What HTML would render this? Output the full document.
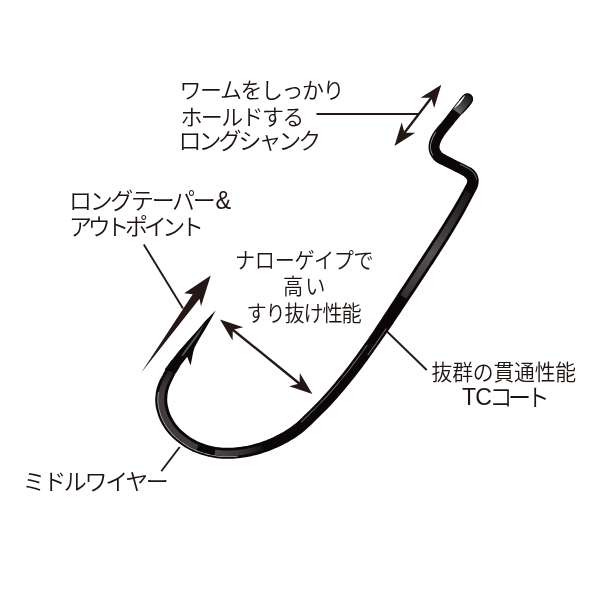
<!DOCTYPE html>
<html lang="ja"><head><meta charset="utf-8"><title>hook</title>
<style>
html,body{margin:0;padding:0;background:#fff;}
body{width:600px;height:600px;overflow:hidden;position:relative;}
svg{position:absolute;left:0;top:0;}
text{font-family:"Liberation Sans","Noto Sans CJK JP",sans-serif;font-weight:350;fill:#1d1412;}
</style></head><body>
<svg width="600" height="600" viewBox="0 0 600 600">
<defs>
<linearGradient id="eyeg" gradientUnits="userSpaceOnUse" x1="-4" y1="0" x2="16.5" y2="0"><stop offset="0" stop-color="#1c1819"/><stop offset="0.45" stop-color="#3a3636"/><stop offset="1" stop-color="#6b6868"/></linearGradient>
<linearGradient id="shg" gradientUnits="userSpaceOnUse" x1="468" y1="193" x2="404" y2="295"><stop offset="0" stop-color="#1d191a"/><stop offset="0.3" stop-color="#383434"/><stop offset="0.6" stop-color="#565252"/><stop offset="0.85" stop-color="#423e3e"/><stop offset="1" stop-color="#353131"/></linearGradient>
<linearGradient id="bga" gradientUnits="userSpaceOnUse" x1="172" y1="368" x2="168" y2="395"><stop offset="0" stop-color="#1a1617"/><stop offset="0.5" stop-color="#343030"/><stop offset="1" stop-color="#403c3c"/></linearGradient>
<linearGradient id="bgb" gradientUnits="userSpaceOnUse" x1="214" y1="0" x2="262" y2="0"><stop offset="0" stop-color="#4c4848"/><stop offset="0.6" stop-color="#353131"/><stop offset="1" stop-color="#151112"/></linearGradient>
</defs>
<rect width="600" height="600" fill="#fff"/>
<!-- hook wire -->
<path d="M 462.8,95.5 L 461.7,96.8 L 460.6,98.2 L 459.5,99.6 L 458.5,100.9 L 457.5,102.1 L 456.6,103.2 L 455.8,104.2 L 455.2,105.0 L 454.5,105.9 L 453.8,106.8 L 452.9,107.9 L 451.9,109.2 L 450.7,110.8 L 449.4,112.5 L 448.0,114.3 L 446.5,116.2 L 445.2,118.0 L 443.9,119.6 L 442.7,121.0 L 441.5,122.4 L 440.4,123.7 L 439.2,125.1 L 438.2,126.3 L 437.1,127.6 L 436.2,128.7 L 435.4,129.8 L 434.6,130.8 L 433.9,131.8 L 433.2,132.8 L 432.6,133.8 L 432.0,134.9 L 431.4,135.9 L 430.9,137.0 L 430.5,138.0 L 430.1,139.1 L 429.7,140.1 L 429.4,141.2 L 429.1,142.2 L 428.9,143.3 L 428.7,144.4 L 428.6,145.4 L 428.6,146.5 L 428.6,147.6 L 428.6,148.6 L 428.7,149.7 L 428.9,150.7 L 429.2,151.7 L 429.5,152.7 L 429.8,153.7 L 430.3,154.7 L 430.8,155.6 L 431.3,156.6 L 431.9,157.4 L 432.4,158.1 L 432.8,158.6 L 433.2,159.2 L 433.9,160.1 L 435.0,161.1 L 436.2,162.0 L 437.7,162.9 L 439.6,164.0 L 441.9,165.1 L 444.3,166.3 L 446.9,167.5 L 449.4,168.7 L 451.6,169.8 L 453.7,170.9 L 455.9,172.0 L 458.0,173.1 L 459.9,174.1 L 461.6,175.0 L 463.0,175.8 L 463.9,176.3 L 464.4,176.7 L 464.6,176.9 L 464.5,176.9 L 464.7,177.1 L 465.0,177.4 L 465.3,177.7 L 465.6,177.9 L 465.8,178.1 L 466.0,178.3 L 466.2,178.5 L 466.3,178.7 L 466.5,178.8 L 466.6,179.0 L 466.7,179.2 L 466.8,179.3 L 466.9,179.5 L 466.9,179.6 L 467.0,179.8 L 467.0,179.9 L 467.1,180.1 L 467.1,180.2 L 467.1,180.4 L 467.2,180.6 L 467.2,180.7 L 467.2,180.9 L 467.2,181.1 L 467.1,181.4 L 467.1,181.6 L 467.1,181.9 L 467.0,182.2 L 467.0,182.5 L 466.9,182.8 L 466.8,183.0 L 466.7,183.4 L 466.5,183.8 L 466.3,184.2 L 466.3,184.2 L 466.3,184.2 L 466.0,184.7 L 465.5,185.6 L 464.6,187.2 L 463.3,189.7 L 461.6,192.7 L 459.7,196.2 L 457.6,199.9 L 455.5,203.6 L 453.5,207.0 L 451.6,210.3 L 449.6,213.5 L 447.6,216.8 L 445.5,220.1 L 443.5,223.4 L 441.4,226.7 L 439.4,229.8 L 437.5,232.9 L 435.5,235.9 L 433.5,239.1 L 431.2,242.6 L 428.7,246.5 L 425.7,251.0 L 422.4,256.1 L 418.9,261.5 L 415.4,266.8 L 412.1,271.9 L 409.1,276.5 L 406.6,280.4 L 404.3,283.9 L 402.2,287.1 L 400.1,290.2 L 398.1,293.3 L 396.0,296.5 L 393.8,299.9 L 391.6,303.2 L 389.5,306.5 L 387.3,309.9 L 385.1,313.2 L 382.9,316.6 L 380.7,319.9 L 378.5,323.2 L 376.3,326.6 L 374.1,329.9 L 371.9,333.2 L 369.6,336.6 L 367.3,339.9 L 364.9,343.2 L 362.6,346.5 L 360.2,349.8 L 357.8,353.2 L 355.4,356.5 L 353.0,359.8 L 350.5,363.1 L 348.0,366.4 L 345.4,369.7 L 342.9,373.0 L 340.2,376.3 L 337.5,379.6 L 334.8,382.9 L 332.0,386.2 L 329.2,389.5 L 326.3,392.8 L 323.3,396.1 L 320.2,399.4 L 316.8,403.0 L 313.3,406.5 L 309.9,409.9 L 306.7,413.1 L 303.8,415.8 L 301.4,418.2 L 299.2,420.2 L 297.3,421.9 L 295.6,423.4 L 293.7,424.8 L 291.7,426.4 L 289.5,427.9 L 287.1,429.4 L 284.8,430.9 L 282.3,432.4 L 279.9,433.7 L 277.4,435.0 L 275.1,436.2 L 272.7,437.4 L 270.3,438.5 L 267.9,439.5 L 265.5,440.4 L 263.1,441.3 L 260.8,442.2 L 258.4,442.9 L 256.0,443.6 L 253.6,444.3 L 251.2,444.9 L 248.8,445.4 L 246.5,445.9 L 244.1,446.3 L 241.7,446.7 L 239.3,447.0 L 237.0,447.3 L 234.6,447.5 L 232.2,447.7 L 229.8,447.8 L 227.5,447.8 L 225.1,447.8 L 222.8,447.7 L 220.5,447.5 L 218.2,447.3 L 215.9,446.9 L 213.6,446.5 L 211.3,446.0 L 208.9,445.4 L 206.6,444.7 L 204.3,443.9 L 201.9,443.1 L 199.6,442.2 L 197.3,441.2 L 195.1,440.1 L 192.9,438.8 L 190.6,437.4 L 188.2,435.7 L 185.9,434.0 L 183.6,432.1 L 181.5,430.2 L 179.6,428.4 L 178.0,426.6 L 176.5,424.8 L 175.2,422.9 L 173.9,421.0 L 172.8,419.1 L 171.8,417.2 L 170.9,415.4 L 170.1,413.7 L 169.5,411.9 L 168.9,410.1 L 168.5,408.4 L 168.0,406.6 L 167.7,405.1 L 167.5,403.7 L 167.3,402.5 L 167.3,401.2 L 167.2,399.9 L 167.3,398.3 L 167.4,396.6 L 167.5,395.0 L 167.7,393.3 L 168.0,391.6 L 168.4,389.9 L 168.9,388.0 L 169.8,385.8 L 170.8,383.3 L 172.1,380.5 L 173.5,377.8 L 174.7,375.2 L 175.8,373.1 L 176.7,371.4 L 177.4,370.2 L 178.1,369.2 L 178.8,368.2 L 179.5,367.1 L 180.3,365.9 L 171.7,360.1 L 170.9,361.2 L 170.2,362.2 L 169.5,363.3 L 168.6,364.6 L 167.6,366.1 L 166.6,367.9 L 165.3,370.1 L 163.8,372.6 L 162.3,375.4 L 160.7,378.3 L 159.2,381.2 L 158.1,384.0 L 157.2,386.6 L 156.5,389.1 L 156.0,391.4 L 155.7,393.6 L 155.5,395.7 L 155.3,397.7 L 155.2,399.7 L 155.2,401.6 L 155.4,403.5 L 155.6,405.5 L 155.9,407.4 L 156.4,409.4 L 156.9,411.4 L 157.5,413.5 L 158.2,415.8 L 159.0,418.1 L 160.1,420.5 L 161.2,422.8 L 162.5,425.1 L 164.0,427.4 L 165.5,429.7 L 167.3,432.0 L 169.2,434.3 L 171.4,436.6 L 173.7,438.8 L 176.2,440.9 L 178.9,443.0 L 181.6,445.0 L 184.4,446.9 L 187.1,448.6 L 189.9,450.1 L 192.6,451.4 L 195.4,452.5 L 198.1,453.6 L 200.7,454.5 L 203.4,455.3 L 206.1,456.1 L 208.7,456.7 L 211.4,457.3 L 214.1,457.8 L 216.8,458.2 L 219.5,458.5 L 222.2,458.7 L 224.9,458.8 L 227.5,458.8 L 230.2,458.8 L 232.8,458.7 L 235.4,458.5 L 238.0,458.3 L 240.7,458.0 L 243.3,457.6 L 245.9,457.2 L 248.5,456.7 L 251.2,456.2 L 253.8,455.6 L 256.4,454.9 L 259.0,454.2 L 261.6,453.4 L 264.2,452.6 L 266.9,451.7 L 269.5,450.7 L 272.1,449.7 L 274.7,448.6 L 277.3,447.5 L 279.9,446.3 L 282.6,445.0 L 285.2,443.6 L 287.9,442.2 L 290.5,440.6 L 293.2,439.0 L 295.8,437.4 L 298.3,435.6 L 300.6,433.9 L 302.8,432.2 L 304.9,430.5 L 307.0,428.6 L 309.2,426.6 L 311.8,424.2 L 314.7,421.3 L 318.0,418.1 L 321.5,414.6 L 325.1,411.0 L 328.6,407.4 L 331.9,403.9 L 335.0,400.6 L 338.0,397.2 L 340.9,393.8 L 343.8,390.4 L 346.6,387.1 L 349.4,383.7 L 352.1,380.3 L 354.8,377.0 L 357.4,373.6 L 360.0,370.2 L 362.5,366.9 L 365.0,363.5 L 367.5,360.2 L 369.9,356.8 L 372.3,353.5 L 374.7,350.1 L 377.1,346.8 L 379.4,343.4 L 381.8,340.1 L 384.1,336.8 L 386.4,333.4 L 388.7,330.1 L 391.0,326.8 L 393.3,323.4 L 395.5,320.1 L 397.7,316.8 L 400.0,313.5 L 402.2,310.1 L 404.4,306.8 L 406.6,303.5 L 408.7,300.3 L 410.8,297.2 L 412.8,294.2 L 415.0,290.9 L 417.3,287.5 L 419.9,283.5 L 422.9,279.0 L 426.2,273.9 L 429.7,268.5 L 433.3,263.2 L 436.6,258.1 L 439.5,253.5 L 442.0,249.6 L 444.3,246.1 L 446.3,242.8 L 448.3,239.7 L 450.2,236.6 L 452.2,233.3 L 454.2,230.0 L 456.2,226.6 L 458.2,223.2 L 460.2,219.8 L 462.1,216.4 L 464.1,213.0 L 466.0,209.4 L 468.1,205.6 L 470.1,201.8 L 471.9,198.3 L 473.5,195.2 L 474.8,192.8 L 475.6,191.2 L 476.1,190.2 L 476.4,189.7 L 476.7,189.2 L 476.9,188.7 L 477.1,188.2 L 477.4,187.5 L 477.7,186.7 L 477.9,186.0 L 478.1,185.3 L 478.3,184.6 L 478.4,183.9 L 478.5,183.2 L 478.6,182.4 L 478.6,181.7 L 478.7,181.0 L 478.7,180.2 L 478.6,179.5 L 478.5,178.8 L 478.4,178.0 L 478.2,177.3 L 478.0,176.6 L 477.8,175.9 L 477.5,175.2 L 477.2,174.5 L 476.9,173.8 L 476.5,173.2 L 476.1,172.6 L 475.7,172.0 L 475.2,171.4 L 474.8,170.8 L 474.3,170.3 L 473.7,169.7 L 473.2,169.2 L 472.6,168.8 L 472.1,168.4 L 471.7,168.1 L 471.3,167.8 L 470.6,167.5 L 469.9,167.2 L 469.1,166.8 L 468.0,166.2 L 466.6,165.5 L 464.8,164.6 L 462.8,163.6 L 460.7,162.6 L 458.5,161.5 L 456.4,160.4 L 454.1,159.2 L 451.7,157.9 L 449.2,156.7 L 446.8,155.4 L 444.8,154.3 L 443.3,153.5 L 442.4,152.9 L 442.0,152.6 L 442.0,152.5 L 442.0,152.5 L 441.7,152.1 L 441.2,151.5 L 440.8,151.0 L 440.6,150.6 L 440.4,150.3 L 440.2,149.9 L 440.0,149.6 L 439.9,149.2 L 439.8,148.8 L 439.7,148.5 L 439.6,148.1 L 439.6,147.7 L 439.5,147.3 L 439.5,146.8 L 439.6,146.3 L 439.6,145.8 L 439.7,145.3 L 439.8,144.8 L 440.0,144.2 L 440.2,143.6 L 440.4,142.9 L 440.7,142.3 L 441.0,141.6 L 441.3,140.8 L 441.7,140.1 L 442.1,139.3 L 442.6,138.5 L 443.0,137.7 L 443.5,136.9 L 444.1,136.0 L 444.7,135.1 L 445.5,134.0 L 446.3,132.9 L 447.2,131.7 L 448.3,130.4 L 449.4,129.0 L 450.7,127.6 L 451.9,126.0 L 453.2,124.4 L 454.7,122.6 L 456.1,120.8 L 457.6,119.0 L 458.9,117.4 L 460.1,116.0 L 461.0,114.9 L 461.9,114.1 L 462.7,113.4 L 463.5,112.7 L 464.4,111.8 L 465.4,110.8 L 466.5,109.5 L 467.6,108.2 L 468.7,106.9 L 469.8,105.5 L 470.8,104.1 L 471.9,102.8 Z" fill="#0b0708"/>
<path d="M 465.5,190.9 L 463.9,193.9 L 462.0,197.4 L 459.9,201.1 L 457.8,204.8 L 455.9,208.3 L 453.9,211.6 L 451.9,214.9 L 449.9,218.2 L 447.9,221.5 L 445.8,224.8 L 443.8,228.1 L 441.8,231.3 L 439.8,234.4 L 437.9,237.4 L 435.8,240.6 L 433.6,244.1 L 431.1,248.0 L 428.1,252.6 L 424.8,257.7 L 421.3,263.0 L 417.8,268.4 L 414.5,273.5 L 411.5,278.0 L 408.9,281.9 L 406.6,285.4 L 404.5,288.6 L 402.5,291.7 L 400.5,294.8 L 406.4,298.8 L 408.4,295.7 L 410.5,292.6 L 412.6,289.4 L 414.9,285.9 L 417.5,282.0 L 420.5,277.4 L 423.8,272.4 L 427.4,267.0 L 430.9,261.6 L 434.2,256.5 L 437.1,252.0 L 439.7,248.0 L 441.9,244.5 L 444.0,241.3 L 445.9,238.2 L 447.8,235.1 L 449.8,231.9 L 451.9,228.5 L 453.9,225.2 L 455.9,221.8 L 457.9,218.4 L 459.8,215.1 L 461.7,211.7 L 463.7,208.1 L 465.8,204.3 L 467.8,200.6 L 469.7,197.0 L 471.3,193.9 Z" fill="url(#shg)"/>
<path d="M 198.6,444.8 L 196.1,443.7 L 193.8,442.6 L 191.4,441.3 L 189.0,439.8 L 186.6,438.1 L 184.1,436.2 L 181.7,434.3 L 179.5,432.4 L 177.6,430.5 L 175.8,428.6 L 174.2,426.6 L 172.8,424.6 L 171.4,422.6 L 170.2,420.6 L 169.1,418.6 L 168.2,416.7 L 167.4,414.8 L 166.7,412.9 L 166.1,411.0 L 165.6,409.1 L 165.1,407.3 L 164.8,405.7 L 164.5,404.2 L 164.3,402.7 L 164.3,401.3 L 164.2,399.8 L 164.3,398.2 L 164.4,396.4 L 164.6,394.6 L 164.8,392.8 L 165.1,391.0 L 165.6,389.0 L 166.2,387.0 L 167.1,384.7 L 168.3,382.0 L 169.7,379.2 L 171.0,376.5 L 172.4,373.9 L 173.5,371.8 L 168.9,369.2 L 167.7,371.4 L 166.2,373.9 L 164.7,376.7 L 163.2,379.6 L 161.9,382.4 L 160.8,385.0 L 160.0,387.4 L 159.4,389.7 L 158.9,391.9 L 158.6,393.9 L 158.4,395.9 L 158.3,397.8 L 158.2,399.7 L 158.2,401.5 L 158.3,403.3 L 158.6,405.0 L 158.9,406.8 L 159.3,408.7 L 159.8,410.6 L 160.3,412.7 L 161.0,414.8 L 161.8,417.0 L 162.8,419.2 L 163.9,421.4 L 165.1,423.6 L 166.5,425.8 L 168.0,428.0 L 169.6,430.2 L 171.4,432.4 L 173.4,434.5 L 175.6,436.6 L 178.1,438.7 L 180.6,440.8 L 183.3,442.7 L 185.9,444.5 L 188.6,446.1 L 191.2,447.6 L 193.8,448.8 L 196.4,449.9 Z" fill="url(#bga)"/>
<path d="M 261.7,444.8 L 259.2,445.6 L 256.7,446.3 L 254.3,446.9 L 251.9,447.6 L 249.4,448.1 L 247.0,448.6 L 244.5,449.1 L 242.1,449.4 L 239.7,449.8 L 237.2,450.0 L 234.8,450.3 L 232.3,450.4 L 229.9,450.5 L 227.5,450.6 L 225.1,450.6 L 222.7,450.5 L 220.3,450.3 L 217.9,450.0 L 215.4,449.6 L 214.6,455.1 L 217.1,455.4 L 219.7,455.7 L 222.3,455.9 L 224.9,456.1 L 227.5,456.1 L 230.1,456.0 L 232.7,455.9 L 235.2,455.7 L 237.8,455.5 L 240.3,455.2 L 242.9,454.9 L 245.5,454.5 L 248.0,454.0 L 250.6,453.5 L 253.1,452.9 L 255.7,452.3 L 258.3,451.6 L 260.8,450.8 L 263.3,450.0 Z" fill="url(#bgb)"/>
<path d="M 237.8,455.8 L 235.2,456.0 L 232.7,456.2 L 230.1,456.3 L 227.5,456.3 L 224.9,456.3 L 222.3,456.2 L 219.7,456.0 L 217.1,455.7 L 214.5,455.3 L 211.9,454.9 L 209.3,454.3 L 206.7,453.6 L 204.1,452.9 L 201.5,452.1 L 198.9,451.2 L 196.3,450.1 L 193.7,449.0 L 191.1,447.7 L 188.5,446.3 L 185.8,444.6 L 183.2,442.8 L 180.5,440.9 L 178.0,438.8 L 175.6,436.7 L 173.4,434.6 L 171.4,432.5 L 169.6,430.3 L 167.9,428.0 L 166.4,425.8 L 165.1,423.6 L 163.9,421.4 L 162.8,419.2 L 161.8,417.0 L 161.0,414.8 L 160.4,412.7 L 159.8,410.6 L 159.3,408.7 L 158.9,406.8 L 158.6,405.0 L 158.4,403.3 L 158.3,401.5 L 158.3,399.7 L 158.3,397.8 L 158.5,395.9 L 158.6,393.9 L 158.9,391.9 L 158.1,391.8 L 157.8,393.8 L 157.6,395.8 L 157.5,397.8 L 157.4,399.7 L 157.4,401.5 L 157.5,403.3 L 157.8,405.1 L 158.1,407.0 L 158.5,408.9 L 159.0,410.8 L 159.5,412.9 L 160.2,415.1 L 161.0,417.3 L 162.0,419.6 L 163.1,421.8 L 164.4,424.0 L 165.7,426.2 L 167.2,428.5 L 168.9,430.8 L 170.8,433.0 L 172.8,435.2 L 175.0,437.3 L 177.5,439.4 L 180.1,441.5 L 182.7,443.5 L 185.4,445.3 L 188.1,447.0 L 190.7,448.4 L 193.4,449.7 L 196.0,450.9 L 198.7,451.9 L 201.3,452.8 L 203.9,453.6 L 206.5,454.4 L 209.1,455.0 L 211.8,455.6 L 214.4,456.1 L 217.0,456.5 L 219.6,456.8 L 222.3,457.0 L 224.9,457.1 L 227.5,457.1 L 230.1,457.1 L 232.7,456.9 L 235.3,456.8 L 237.8,456.6 Z" fill="#d8d6d6" opacity="0.8"/>
<path d="M 386.0,328.3 L 383.7,331.6 L 381.4,334.9 L 379.1,338.3 L 376.8,341.6 L 374.5,345.0 L 372.1,348.3 L 369.8,351.6 L 367.4,355.0 L 368.0,355.4 L 370.4,352.1 L 372.7,348.7 L 375.1,345.4 L 377.4,342.0 L 379.7,338.7 L 382.0,335.3 L 384.3,332.0 L 386.6,328.7 Z" fill="#b5b2b2" opacity="0.75"/>
<path d="M 435.8,131.7 L 435.2,132.6 L 434.6,133.6 L 434.0,134.6 L 433.4,135.6 L 432.9,136.6 L 432.4,137.6 L 432.0,138.6 L 431.6,139.6 L 431.3,140.6 L 431.0,141.6 L 430.7,142.6 L 430.5,143.6 L 430.3,144.6 L 430.2,145.6 L 430.2,146.5 L 430.2,147.5 L 430.2,148.5 L 430.3,149.4 L 430.5,150.4 L 430.7,151.3 L 431.0,152.2 L 431.3,153.1 L 431.7,154.0 L 432.2,154.9 L 432.6,155.6 L 433.3,155.2 L 432.8,154.5 L 432.4,153.7 L 432.0,152.8 L 431.7,152.0 L 431.5,151.1 L 431.2,150.2 L 431.1,149.3 L 431.0,148.4 L 430.9,147.5 L 430.9,146.6 L 431.0,145.6 L 431.1,144.7 L 431.2,143.7 L 431.4,142.8 L 431.7,141.8 L 432.0,140.9 L 432.3,139.9 L 432.7,138.9 L 433.1,138.0 L 433.6,137.0 L 434.1,136.0 L 434.7,135.0 L 435.2,134.0 L 435.8,133.1 L 436.5,132.1 Z" fill="#c9c6c6" opacity="0.8"/>
<path d="M 459.8,164.4 L 461.9,165.5 L 463.8,166.5 L 465.6,167.4 L 467.0,168.2 L 468.1,168.7 L 468.8,169.1 L 469.3,169.5 L 469.8,169.8 L 470.1,170.1 L 470.5,170.4 L 471.0,170.8 L 471.5,171.2 L 472.0,171.6 L 472.4,172.1 L 472.8,172.5 L 473.3,173.0 L 473.6,173.5 L 474.0,174.0 L 474.3,174.5 L 474.6,175.1 L 474.9,175.6 L 475.2,176.2 L 475.4,176.7 L 475.6,177.3 L 475.8,177.9 L 475.9,178.5 L 476.0,179.1 L 476.1,179.6 L 476.9,179.6 L 476.8,179.0 L 476.7,178.4 L 476.5,177.7 L 476.4,177.1 L 476.2,176.5 L 475.9,175.9 L 475.6,175.3 L 475.3,174.7 L 475.0,174.1 L 474.7,173.5 L 474.3,173.0 L 473.9,172.5 L 473.4,172.0 L 473.0,171.5 L 472.5,171.0 L 472.0,170.6 L 471.5,170.1 L 471.0,169.7 L 470.6,169.5 L 470.3,169.2 L 469.8,168.8 L 469.2,168.5 L 468.4,168.1 L 467.4,167.5 L 465.9,166.7 L 464.2,165.8 L 462.2,164.8 L 460.1,163.8 Z" fill="#b5b2b2" opacity="0.7"/>
<path d="M 367.1,344.7 L 364.7,348.1 L 362.4,351.4 L 359.9,354.7 L 357.5,358.0 L 355.0,361.3 L 352.5,364.6 L 350.0,368.0 L 347.5,371.3 L 344.9,374.6 L 342.2,377.9 L 339.5,381.2 L 336.7,384.5 L 333.9,387.8 L 331.1,391.1 L 328.1,394.4 L 325.1,397.7 L 321.9,401.1 L 318.5,404.7 L 315.1,408.2 L 311.6,411.6 L 308.4,414.8 L 305.5,417.6 L 303.0,419.9 L 300.8,422.0 L 301.3,422.5 L 303.5,420.4 L 306.0,418.1 L 308.9,415.3 L 312.1,412.1 L 315.5,408.7 L 319.0,405.1 L 322.4,401.6 L 325.7,398.2 L 328.7,394.9 L 331.6,391.6 L 334.5,388.3 L 337.3,385.0 L 340.0,381.6 L 342.7,378.3 L 345.4,375.0 L 348.0,371.7 L 350.6,368.4 L 353.1,365.1 L 355.6,361.8 L 358.1,358.4 L 360.5,355.1 L 362.9,351.8 L 365.3,348.5 L 367.7,345.1 Z" fill="#b5b2b2" opacity="0.75"/>
<g transform="translate(467.35,99.15) rotate(129.04)">
<path d="M 0,-5.85 A 5.85 5.85 0 0 0 0,5.85 L 6,5.85 L 6,-5.85 Z" fill="#0b0708"/>
<path d="M 0.5,4.7 C -2.2,4.5 -4.3,2.4 -4.4,-0.3 C -4.4,-2.6 -2.6,-4.3 0,-4.4 L 16.3,-4.2 L 16.8,4.7 Z" fill="url(#eyeg)"/>
<path d="M -1.8,4.5 C 3,5.0 10,4.95 16,4.7 C 10,2.9 3,2.5 -1.8,4.5 Z" fill="#fff"/>
</g>
<!-- barb -->
<path d="M 164.6,369.6 L 171,361.3 L 178.3,351.8 L 189.2,339.5 L 197.5,330.2 L 205,321.2 L 215.8,310.2 L 210.8,319.4 L 205,329.4 L 198.5,340.2 L 194.6,347.6 L 193.2,352 L 190.6,365.6 L 187.2,356.8 L 180.4,365.6 L 176,373 Z" fill="#0b0708"/>
<path d="M 204.5,323.5 L 196.5,334.5 L 186,348.5 L 181,356 L 183.5,355.5 L 190.5,346 L 198.5,335 Z" fill="#6f6b6b" opacity="0.75"/>
<!-- leader lines -->
<g fill="none" stroke="#231815" stroke-width="1.9">
<path d="M 316.5,114 L 418,114"/>
<path d="M 143.8,244.5 L 183,308.5"/>
<path d="M 387,331.5 L 426.7,370"/>
<path d="M 161.3,471.3 L 179.7,447"/>
</g>
<!-- double arrows -->
<path d="M 432.3,96.5 L 403.5,134.1" stroke="#231815" stroke-width="2.4" fill="none"/>
<path d="M 394.5,145.9 L 401.7,122.5 L 404.5,132.8 L 415.2,132.8 Z M 441.3,84.7 L 434.1,108.1 L 431.3,97.8 L 420.6,97.8 Z" fill="#231815"/>
<path d="M 231.6,328.7 L 300.8,384.7" stroke="#231815" stroke-width="2.4" fill="none"/>
<path d="M 312.4,394.0 L 289.2,386.2 L 299.6,383.6 L 299.8,372.9 Z M 220.0,319.4 L 243.2,327.2 L 232.8,329.8 L 232.6,340.5 Z" fill="#231815"/>
<!-- taper arrow -->
<path d="M 210.75,275.5 L 184.2,293.2 L 192.75,294.25 L 141,373 L 199.5,298.75 L 201,306.25 Z" fill="#231815"/>
<!-- labels -->
<g opacity="0.999">
<text transform="translate(179.50,98.40) scale(1.000,1)" font-size="22.00" letter-spacing="-1.46">ワームをしっかり</text>
<text transform="translate(180.50,124.50) scale(1.000,1)" font-size="22.00" letter-spacing="-1.64">ホールドする</text>
<text transform="translate(178.50,149.00) scale(1.000,1)" font-size="23.00" letter-spacing="-3.03">ロングシャンク</text>
<text transform="translate(69.00,208.70) scale(1.000,1)" font-size="23.00" letter-spacing="-2.33">ロングテーパー</text>
<text transform="translate(215.50,208.50) scale(0.920,1)" font-size="25.50" letter-spacing="0.00">&amp;</text>
<text transform="translate(69.00,234.80) scale(1.000,1)" font-size="23.00" letter-spacing="-4.33">アウトポイント</text>
<text transform="translate(235.00,268.00) scale(0.930,1)" font-size="21.70" letter-spacing="-0.36">ナローゲイプで</text>
<text transform="translate(283.00,294.20) scale(0.930,1)" font-size="21.70" letter-spacing="2.15">高い</text>
<text transform="translate(246.50,321.20) scale(0.930,1)" font-size="21.70" letter-spacing="-1.25">すり抜け性能</text>
<text transform="translate(431.50,379.80) scale(0.960,1)" font-size="21.70" letter-spacing="-0.21">抜群の貫通性能</text>
<text transform="translate(462.00,405.10) scale(0.960,1)" font-size="24.00" letter-spacing="-0.83">TC</text>
<text transform="translate(489.50,406.00) scale(0.960,1)" font-size="24.00" letter-spacing="-4.69">コート</text>
<text transform="translate(22.50,489.70) scale(1.000,1)" font-size="23.00" letter-spacing="-2.33">ミドルワイヤー</text>
</g>
</svg>
</body></html>
